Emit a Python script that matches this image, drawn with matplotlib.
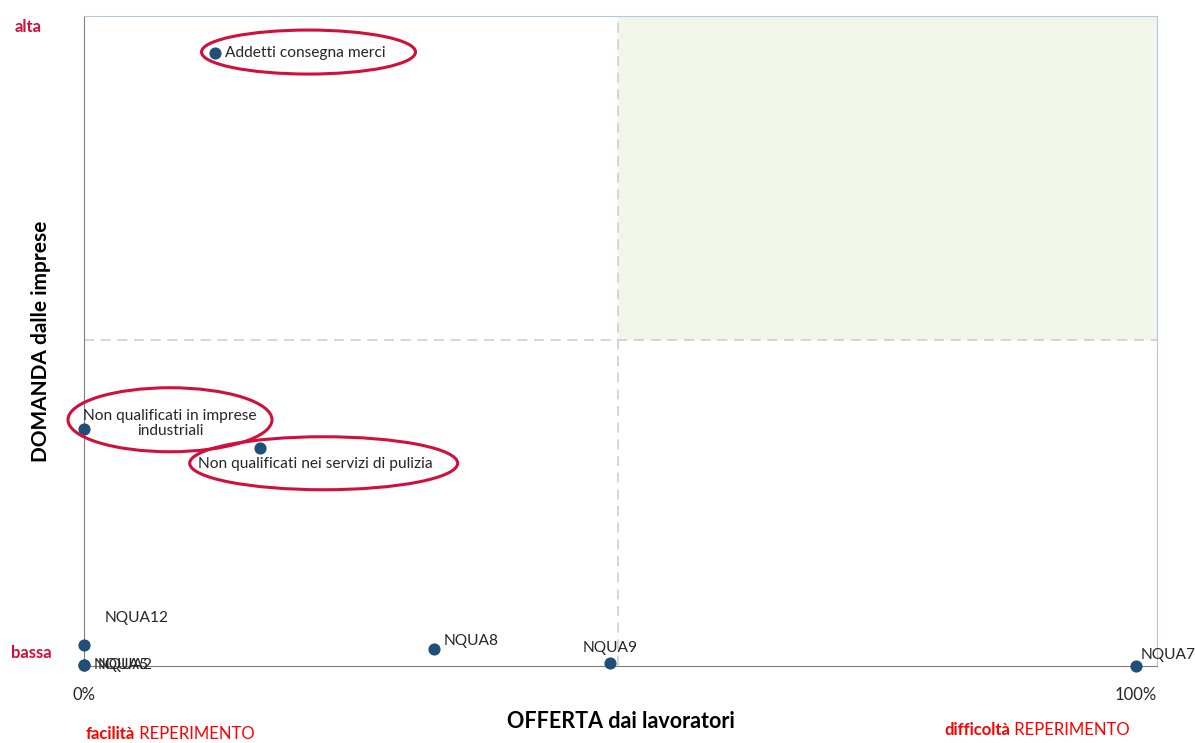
import numpy as np
import matplotlib.pyplot as plt
from matplotlib.patches import Ellipse, Rectangle

plt.rcParams['font.family'] = ['Lato', 'DejaVu Sans']

# data
nomi = ["Addetti consegna merci", "Non qualificati in imprese\nindustriali",
        "Non qualificati nei servizi di pulizia", "NQUA12", "NQUA5", "NQUA2",
        "NQUA8", "NQUA9", "NQUA7"]
offerta = [12.5, 0.0, 16.7, 0.0, 0.0, 0.0, 33.3, 50.0, 100.0]
domanda = [94.3, 36.5, 33.5, 3.2, 0.15, 0.15, 2.6, 0.5, 0.0]
# label offsets in pixels and alignment
offs = [(10, 0, 'left', 'center'), (86, 5, 'center', 'center'),
        (56, -16, 'center', 'center'), (21, 27, 'left', 'center'),
        (10, 0, 'left', 'center'), (14, 0, 'left', 'center'),
        (9, 8, 'left', 'center'), (0, 15, 'center', 'center'),
        (5, 11, 'left', 'center')]
# highlighted ones: ellipse centre offset from point (px), width, height (px)
evidenza = {0: (93, 1, 214, 44), 1: (86, 9, 204, 64), 2: (64, -15, 268, 53)}

ref_x = 50.8
ref_y = 50.2

fig = plt.figure(figsize=(11.95, 7.43), dpi=100)
ax = fig.add_axes([84/1195, 77/743, 1073/1195, 650/743])
ax.set_xlim(0, 102)
ax.set_ylim(0, 100)

# shaded quadrant
ax.add_patch(Rectangle((ref_x, ref_y), 102 - ref_x, 100 - ref_y,
                       facecolor='#f2f5ea', edgecolor='none', zorder=0))
ax.axvline(ref_x, color='#cfcfcf', ls=(0, (6, 4)), lw=1.2, zorder=1)
ax.axhline(ref_y, color='#cfcfcf', ls=(0, (6, 4)), lw=1.2, zorder=1)

ax.scatter(offerta, domanda, s=60, color='#1f4e79', zorder=5, clip_on=False)

px_x = 1073 / 102.0
px_y = 650 / 100.0
for i, nome in enumerate(nomi):
    dx, dy, ha, va = offs[i]
    ax.annotate(nome, (offerta[i], domanda[i]), xytext=(dx, dy),
                textcoords='offset pixels', ha=ha, va=va, fontsize=11.2,
                color='#262626', zorder=6, linespacing=1.1)
    if i in evidenza:
        ex, ey, ew, eh = evidenza[i]
        ax.add_patch(Ellipse((offerta[i] + ex / px_x, domanda[i] + ey / px_y),
                             ew / px_x, eh / px_y, facecolor='none',
                             edgecolor='#d0103a', lw=2.2, zorder=7, clip_on=False))

for s in ['left', 'bottom']:
    ax.spines[s].set_color('#7f7f7f')
for s in ['top', 'right']:
    ax.spines[s].set_color('#b4c7e7')
ax.set_xticks([0, 100])
ax.set_xticklabels(['0%', '100%'], fontsize=12, color='#262626')
ax.set_yticks([])
ax.tick_params(axis='x', length=0, pad=15)

ax.set_xlabel('OFFERTA dai lavoratori', fontsize=15.5, fontweight='bold', labelpad=6)
ax.set_ylabel('DOMANDA dalle imprese', fontsize=15, fontweight='bold', labelpad=24)

rosso = '#d0103a'
fig.text(28/1195, 1 - 27/743, 'alta', color=rosso, fontsize=12,
         fontweight='bold', ha='center', va='center')
fig.text(31/1195, 1 - 653/743, 'bassa', color=rosso, fontsize=12,
         fontweight='bold', ha='center', va='center')

t1 = fig.text(86/1195, 1 - 734/743, 'facilità', color='#ff0000', fontsize=12,
              fontweight='bold', ha='left', va='center')
ax.annotate(' REPERIMENTO', xy=(1, 0), xycoords=t1, color='#ff0000',
            fontsize=12, ha='left', va='bottom', annotation_clip=False)
t2 = fig.text(944/1195, 1 - 730/743, 'difficoltà', color='#ff0000', fontsize=12,
              fontweight='bold', ha='left', va='center')
ax.annotate(' REPERIMENTO', xy=(1, 0), xycoords=t2, color='#ff0000',
            fontsize=12, ha='left', va='bottom', annotation_clip=False)

fig.savefig('out.png', dpi=100)
